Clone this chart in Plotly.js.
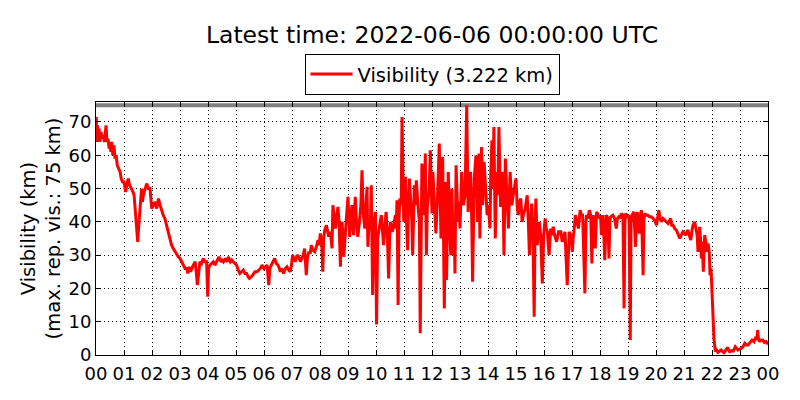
<!DOCTYPE html>
<html>
<head>
<meta charset="utf-8">
<script src="https://cdn.plot.ly/plotly-3.0.1.min.js"></script>
<style>html,body{margin:0;padding:0;background:#fff;}#chart{width:800px;height:400px;}</style>
</head>
<body>
<div id="chart"></div>
<script>
// ---- data (hours since 2022-06-05 00:00 UTC, visibility in km) ----
const hours = [
0.00,0.01,0.03,0.05,0.08,0.11,0.14,0.18,0.22,0.26,0.30,0.34,0.36,0.39,0.43,0.47,0.50,0.53,0.56,0.60,
0.64,0.68,0.72,0.76,0.80,0.86,0.90,0.95,1.00,1.06,1.10,1.15,1.20,1.27,1.32,1.36,1.42,1.49,1.52,1.55,
1.60,1.63,1.66,1.69,1.75,1.81,1.87,1.93,1.99,2.05,2.11,2.17,2.23,2.29,2.35,2.40,2.46,2.52,2.58,2.65,
2.70,2.76,2.82,2.88,2.94,3.00,3.06,3.12,3.18,3.24,3.28,3.33,3.38,3.42,3.48,3.54,3.58,3.62,3.66,3.71,
3.77,3.83,3.89,3.95,3.99,4.02,4.07,4.13,4.19,4.25,4.32,4.39,4.45,4.50,4.55,4.62,4.68,4.73,4.80,4.85,
4.90,4.96,5.02,5.08,5.14,5.20,5.26,5.32,5.38,5.43,5.48,5.55,5.62,5.68,5.75,5.81,5.87,5.93,6.00,6.05,
6.11,6.17,6.21,6.26,6.32,6.38,6.44,6.50,6.55,6.58,6.63,6.70,6.76,6.82,6.88,6.94,6.98,7.02,7.07,7.12,
7.18,7.24,7.30,7.36,7.40,7.45,7.51,7.55,7.60,7.65,7.69,7.75,7.81,7.87,7.93,7.97,8.01,8.06,8.10,8.13,
8.17,8.23,8.28,8.31,8.37,8.43,8.46,8.50,8.55,8.60,8.64,8.68,8.73,8.76,8.79,8.85,8.90,8.95,9.00,9.06,
9.10,9.14,9.20,9.26,9.30,9.35,9.42,9.46,9.50,9.55,9.60,9.65,9.68,9.71,9.76,9.80,9.83,9.88,9.93,9.98,
10.02,10.06,10.10,10.15,10.19,10.23,10.27,10.32,10.36,10.40,10.45,10.49,10.52,10.58,10.63,10.69,10.72,10.75,10.79,10.82,
10.85,10.90,10.93,10.99,11.02,11.05,11.10,11.13,11.16,11.19,11.25,11.28,11.31,11.34,11.37,11.40,11.44,11.50,11.55,11.58,
11.61,11.64,11.70,11.73,11.76,11.80,11.83,11.86,11.90,11.94,11.97,12.00,12.03,12.07,12.14,12.20,12.26,12.32,12.35,12.38,
12.44,12.49,12.52,12.55,12.58,12.62,12.67,12.71,12.76,12.79,12.82,12.86,12.90,12.93,12.97,13.00,13.06,13.12,13.18,13.24,
13.29,13.33,13.38,13.42,13.45,13.51,13.57,13.63,13.68,13.71,13.77,13.81,13.86,13.93,13.97,14.01,14.07,14.10,14.14,14.18,
14.21,14.26,14.31,14.35,14.39,14.45,14.50,14.54,14.57,14.62,14.67,14.73,14.79,14.85,14.90,14.95,15.00,15.04,15.08,15.13,
15.17,15.22,15.26,15.33,15.40,15.44,15.48,15.52,15.56,15.60,15.65,15.68,15.71,15.76,15.80,15.83,15.88,15.94,15.99,16.04,
16.08,16.12,16.18,16.24,16.28,16.33,16.38,16.45,16.52,16.60,16.65,16.69,16.75,16.83,16.87,16.90,16.96,17.01,17.05,17.07,
17.12,17.18,17.23,17.29,17.34,17.38,17.46,17.50,17.52,17.57,17.62,17.67,17.71,17.74,17.76,17.83,17.86,17.88,17.94,18.00,
18.02,18.05,18.08,18.11,18.17,18.20,18.23,18.28,18.32,18.35,18.38,18.46,18.52,18.58,18.62,18.67,18.72,18.76,18.82,18.86,
18.89,18.92,18.96,19.00,19.04,19.08,19.11,19.14,19.21,19.27,19.30,19.33,19.40,19.44,19.48,19.54,19.57,19.60,19.65,19.71,
19.77,19.83,19.90,19.95,20.02,20.06,20.10,20.15,20.19,20.25,20.31,20.37,20.43,20.52,20.56,20.61,20.67,20.73,20.79,20.85,
20.90,20.96,21.02,21.06,21.10,21.14,21.19,21.24,21.28,21.32,21.38,21.44,21.47,21.50,21.53,21.56,21.59,21.62,21.65,21.69,
21.72,21.74,21.78,21.81,21.86,21.90,21.93,21.96,21.98,22.02,22.07,22.12,22.16,22.21,22.27,22.33,22.38,22.43,22.50,22.55,
22.60,22.63,22.70,22.76,22.83,22.88,22.93,22.99,23.05,23.11,23.17,23.23,23.29,23.36,23.43,23.50,23.57,23.60,23.63,23.66,
23.69,23.75,23.81,23.87,23.93,24.00
];
const visKm = [
68,71.5,64,69,65,68,64,67,65,66,64,67,69,64,65,62,64,61,64,60,
63,59,60,57,56,55,53,52,52,49,51,53,51,50,49,48,42,34,38,43,
47,50,46,48,50,51.5,50,50,44,45,46,44,47,45,43,42,41,39,37,35,
33,32,31,30,29.5,29,28,27,26,26,24.5,26.5,25,26,27,28,25,21,24,28,
27.5,29,28,28,17.5,26,27,27.5,28,27,28.5,29.5,28,28.5,28,29,28,29.5,28,28.5,
28,27.5,27,25.5,24.5,25,25.5,24.5,24.5,23.5,23,23.5,24.5,25,25,25.5,26,27,26,26.5,
27,21,26,27,28,29,27.5,27,26,25,26,24.5,26,26.5,25.5,25,27,30,29,28,
30,29.5,28,29,30,32,24,29,31,30.5,33,31.5,31,32.5,34.5,33,36.5,34,25,35,
37.5,39,37,35.5,37,32,45,41,38,42,44.5,40,26.5,38,40,29.5,38,42,47.5,35.5,
40,45,36,47.5,40,35.5,41,45,55.5,42,38,45,50.5,32.5,41,39,51,18,40,43,
9.2,35,38,40,42,38,33,39,43,38,23,36,40,37,38.5,42,38,46.5,15,40,
47,45,71.5,40,45,53.5,38,31.5,45,53,45,40,30,44,51,45,52.5,45,40,6.5,
45,57.5,48,42,60.5,30,44,48,50,61.5,45,42.5,55,48,36.5,48,63.5,35,45,59.5,
14,52,22.5,45,55,42,30,50,30,40,24.5,57,45,40,46,38,55,45,48,75,
43,50,55,40,22,53,60,40,60.5,35,62.5,45,58,48,42,45,38,55,64.5,50,
68.5,35,55,48,68.5,44.5,55,48,30,59,50,38,55,45,48,50,53,45,42,46,
47,40,42,44,48,40,30,40,45.5,38,11.5,38,47,33,38,40,36,21.5,36,41,
38,37,30,38,36,38.5,36,34,37,37,34,35,37,21,35,37,36,31,36,37,
42,40,38,43.5,42,42,18.5,40,42,41,43.5,42,27.5,40,42,32,40,43,42,41,
42,36,40,42,28.5,40,42,41,29,40,41.5,42,41,38,41,41.5,41,42.5,42,14,
40,42.5,42,41.5,42,4.5,40,42,43,32.5,41,43,36.5,42,43.5,24,41,42.5,42,42,
41.5,41.5,41,40.5,39,41,43.5,41,40,41,40.5,40,39.5,41,39,39,38,37.5,36,35,
36,37,36.5,36,37,37.5,36,34.5,37,39,40,37,36,31,36,38.5,35,29,34,25,
32,36,34,31,33.5,31,24,26,23,12,5,1,1.5,0.8,1.2,1.5,1,0.7,1.5,2.3,
1.5,1,1.3,1.2,2.5,2,1.5,1.8,2,2.5,3.5,3,3,3.8,4.5,4,5.5,4.5,7.5,5,
4,4.5,4.5,3.8,4,3.222
];
const latestVis = 3.222;       // km, last value
const maxRepVis = 75;          // km, maximum reported visibility
const latestTime = '2022-06-06 00:00:00 UTC';
const tickHours = [0,1,2,3,4,5,6,7,8,9,10,11,12,13,14,15,16,17,18,19,20,21,22,23,24];
const tickLabels = ['00','01','02','03','04','05','06','07','08','09','10','11','12',
                    '13','14','15','16','17','18','19','20','21','22','23','00'];
const yTicks = [0,10,20,30,40,50,60,70];

const FONT = 'DejaVu Sans, Liberation Sans, sans-serif';

const traces = [
  {
    x: [tickHours[0], tickHours[tickHours.length-1]],
    y: [maxRepVis, maxRepVis],
    mode: 'lines',
    line: {color: '#808080', width: 4},
    showlegend: false,
    hoverinfo: 'skip'
  },
  {
    x: hours,
    y: visKm,
    mode: 'lines',
    name: 'Visibility (' + latestVis.toFixed(3) + ' km)',
    line: {color: '#ff0000', width: 3},
    showlegend: true
  }
];

const axisCommon = {
  showline: true, linecolor: '#000', linewidth: 1, mirror: 'ticks',
  ticks: 'inside', ticklen: 5, tickcolor: '#000', tickwidth: 1,
  showgrid: true, gridcolor: '#000', gridwidth: 1, griddash: '1px,3px',
  zeroline: false,
  tickfont: {family: FONT, size: 18, color: '#000'}
};

const layout = {
  width: 800, height: 400,
  margin: {l: 96, r: 32, t: 102, b: 45},
  paper_bgcolor: '#fff', plot_bgcolor: '#fff',
  font: {family: FONT, color: '#000', size: 18},
  title: {
    text: 'Latest time: ' + latestTime,
    font: {family: FONT, size: 23.5, color: '#000'},
    x: 0.5, xref: 'paper', xanchor: 'center',
    y: 1 - 35/400, yref: 'container', yanchor: 'middle'
  },
  showlegend: true,
  legend: {
    x: 0.5, xanchor: 'center', xref: 'paper',
    y: 1.19, yanchor: 'top', yref: 'paper',
    bordercolor: '#000', borderwidth: 1, bgcolor: '#fff',
    font: {family: FONT, size: 19.5, color: '#000'},
    itemwidth: 42
  },
  xaxis: Object.assign({}, axisCommon, {
    range: [tickHours[0], tickHours[tickHours.length-1]],
    tickmode: 'array', tickvals: tickHours, ticktext: tickLabels,
    ticklabelstandoff: 2
  }),
  yaxis: Object.assign({}, axisCommon, {
    range: [0, 76],
    tickmode: 'array', tickvals: yTicks,
    title: {
      text: 'Visibility (km)<br>(max. rep. vis.: ' + maxRepVis + ' km)',
      font: {family: FONT, size: 19.5, color: '#000'},
      standoff: 2
    }
  })
};

Plotly.newPlot('chart', traces, layout, {staticPlot: true, displayModeBar: false});
</script>
</body>
</html>
